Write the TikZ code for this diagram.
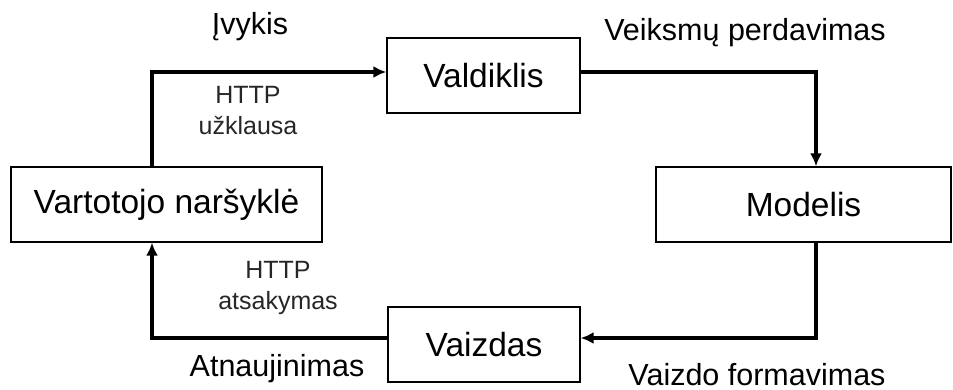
\documentclass[tikz,border=0pt]{standalone}
\usepackage{fontspec}
\setmainfont{Liberation Sans}
\usetikzlibrary{arrows.meta}
\begin{document}
\begin{tikzpicture}[x=1pt,y=-1pt,
  box/.style={draw=black,line width=1.3pt,fill=white,inner sep=0pt,
    font=\fontsize{33.5}{38}\selectfont},
  flow/.style={line width=3.6pt,-{Latex[length=13pt,width=12pt]},line join=miter},
  lbl/.style={font=\fontsize{30.5}{34}\selectfont},
  small/.style={font=\fontsize{25}{31}\selectfont,align=center,text=black!85}]
\useasboundingbox (0,0) rectangle (953,389);
% boxes
\node[box,minimum width=193pt,minimum height=75pt] (ctrl) at (483.5,75.5) {Valdiklis};
\node[box,minimum width=311pt,minimum height=75pt] (browser) at (166.5,204.5) {Vartotojo naršyklė};
\node[box,minimum width=295pt,minimum height=75pt] (model) at (803.5,204.5) {Modelis};
\node[box,minimum width=192pt,minimum height=75pt] (view) at (484,344.5) {Vaizdas};
% corner points of the loop
\coordinate (c1) at (152,72);
\coordinate (c2) at (816,72);
\coordinate (c3) at (816,338);
\coordinate (c4) at (152,338);
% connectors
\draw[flow] (browser.north -| c1) -- (c1) -- (ctrl.west |- c1);
\draw[flow] (ctrl.east |- c2) -- (c2) -- (model.north -| c2);
\draw[flow] (model.south -| c3) -- (c3) -- (view.east |- c3);
\draw[flow] (view.west |- c4) -- (c4) -- (browser.south -| c4);
% labels
\node[lbl] (l1) at (250,27) {Įvykis};
\node[lbl] (l2) at (745,33) {Veiksmų perdavimas};
\node[lbl] (l3) at (277,369) {Atnaujinimas};
\node[lbl] (l4) at (757,375) {Vaizdo formavimas};
\node[small] (s1) at (248,111) {HTTP\\užklausa};
\node[small] (s2) at (278,288) {HTTP\\atsakymas};
\end{tikzpicture}
\end{document}
